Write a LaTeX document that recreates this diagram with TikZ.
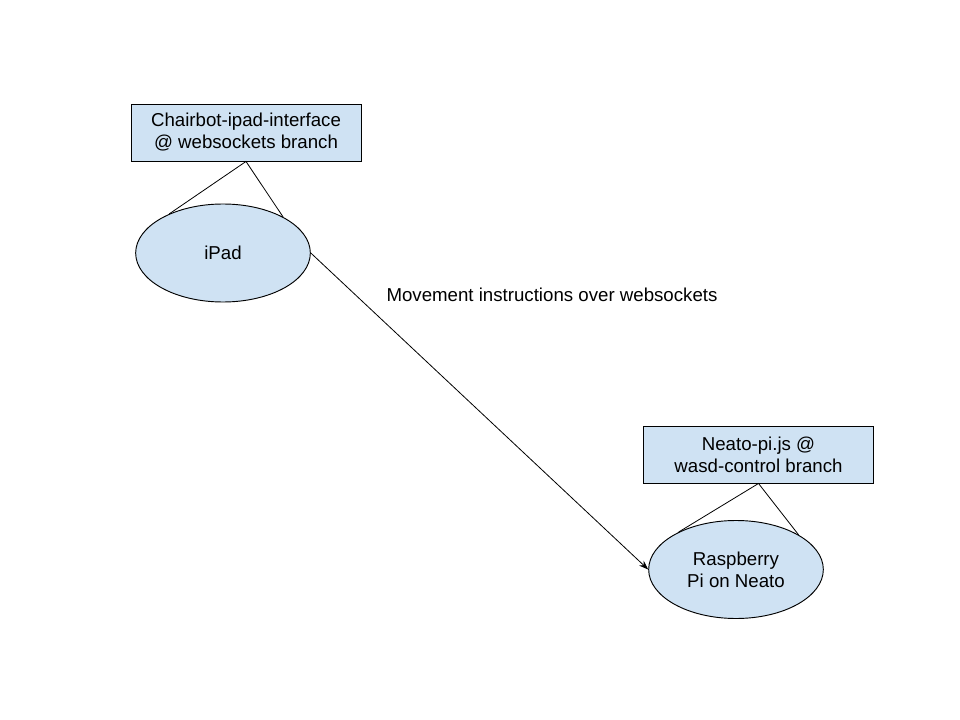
\documentclass[tikz,border=0pt]{standalone}
\usepackage{fontspec}
\setmainfont{Liberation Sans}
\usetikzlibrary{shapes.geometric,arrows.meta}
\definecolor{paleblue}{HTML}{CFE2F3}

\begin{document}
\begin{tikzpicture}[x=0.75pt, y=-0.75pt,
    repo/.style={draw, fill=paleblue, line width=0.7pt, minimum width=172.5pt, minimum height=42.75pt, inner sep=0pt, align=center, font=\fontsize{14}{16.5}\selectfont},
    device/.style={ellipse, draw, fill=paleblue, line width=0.7pt, minimum width=131pt, minimum height=73.5pt, inner sep=0pt, align=center, font=\fontsize{14}{16.5}\selectfont}]
    \useasboundingbox (0, 0) rectangle (960, 720);
    
    \node[repo] (ipadrepo) at (246, 132.5) {Chairbot-ipad-interface\\@ websockets branch};
    \node[device] (ipad) at (223, 253) {iPad};
    
    \node[repo] (pirepo) at (758.5, 454.5) {Neato-pi.js @\\wasd-control branch};
    \node[device] (pi) at (736, 569.5) {Raspberry\\Pi on Neato};
    
    \draw[line width=0.6pt] (ipad.144) -- (ipadrepo.south) -- (ipad.31);
    \draw[line width=0.6pt] (pi.147) -- (pirepo.south) -- (pi.29);
    
    \draw[line width=0.6pt, -{Stealth[length=7pt, width=5pt]}] (ipad.east) -- (pi.west);
    
    \node[font=\fontsize{14}{16.5}\selectfont] (msg) at (552, 295) {Movement instructions over websockets};
\end{tikzpicture}
\end{document}
